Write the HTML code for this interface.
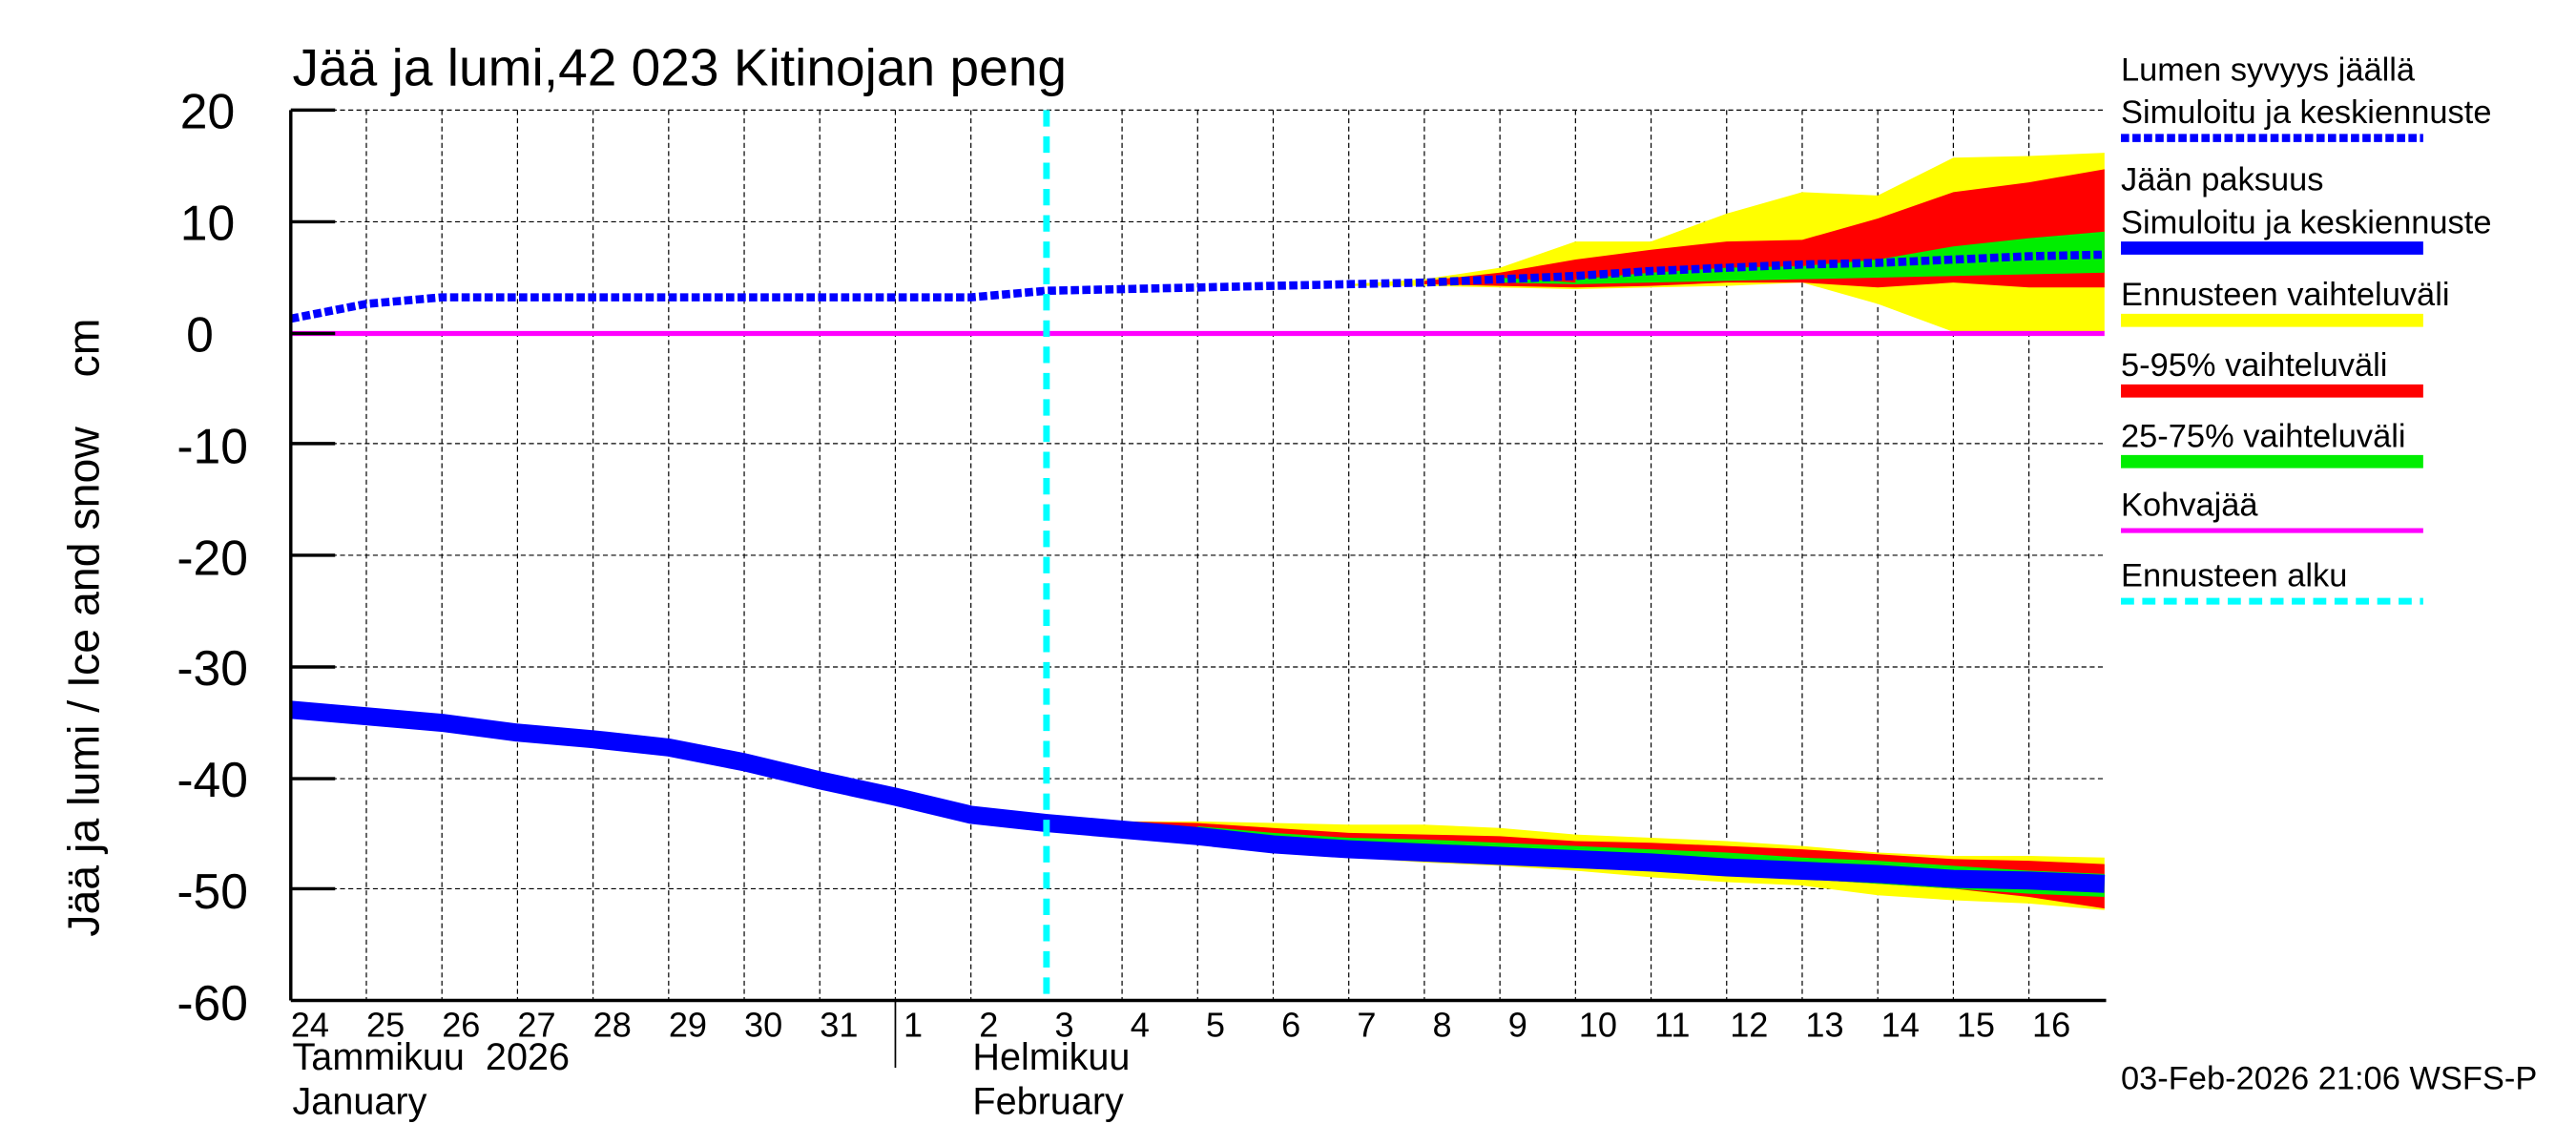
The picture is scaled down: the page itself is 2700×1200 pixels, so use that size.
<!DOCTYPE html>
<html><head><meta charset="utf-8"><style>html,body{margin:0;padding:0;background:#fff}svg{display:block}</style></head><body>
<svg width="2700" height="1200" viewBox="0 0 1568 697" preserveAspectRatio="none" xmlns="http://www.w3.org/2000/svg" font-family="Liberation Sans, sans-serif">
<rect width="1568" height="697" fill="#fff"/>
<g stroke="#000" stroke-width="0.7" stroke-dasharray="3,2">
<line x1="177" y1="67" x2="1281" y2="67"/><line x1="177" y1="135" x2="1281" y2="135"/><line x1="177" y1="270" x2="1281" y2="270"/><line x1="177" y1="338" x2="1281" y2="338"/><line x1="177" y1="406" x2="1281" y2="406"/><line x1="177" y1="474" x2="1281" y2="474"/><line x1="177" y1="541" x2="1281" y2="541"/>
<line x1="223" y1="67" x2="223" y2="609"/><line x1="269" y1="67" x2="269" y2="609"/><line x1="315" y1="67" x2="315" y2="609"/><line x1="361" y1="67" x2="361" y2="609"/><line x1="407" y1="67" x2="407" y2="609"/><line x1="453" y1="67" x2="453" y2="609"/><line x1="499" y1="67" x2="499" y2="609"/><line x1="545" y1="67" x2="545" y2="609"/><line x1="591" y1="67" x2="591" y2="609"/><line x1="683" y1="67" x2="683" y2="609"/><line x1="729" y1="67" x2="729" y2="609"/><line x1="775" y1="67" x2="775" y2="609"/><line x1="821" y1="67" x2="821" y2="609"/><line x1="867" y1="67" x2="867" y2="609"/><line x1="913" y1="67" x2="913" y2="609"/><line x1="959" y1="67" x2="959" y2="609"/><line x1="1005" y1="67" x2="1005" y2="609"/><line x1="1051" y1="67" x2="1051" y2="609"/><line x1="1097" y1="67" x2="1097" y2="609"/><line x1="1143" y1="67" x2="1143" y2="609"/><line x1="1189" y1="67" x2="1189" y2="609"/><line x1="1235" y1="67" x2="1235" y2="609"/>
</g>
<polygon fill="#ffff00" points="821,173 867,170 913,163 959,147 1005,147 1051,130 1097,117 1143,119 1189,96 1235,95 1281,93 1281,202 1235,202 1189,202 1143,185 1097,172 1051,174 1005,175 959,176 913,175 867,174 821,174"/>
<polygon fill="#ff0000" points="867,171 913,166 959,158 1005,152 1051,147 1097,146 1143,133 1189,117 1235,111 1281,103 1281,175 1235,175 1189,172 1143,175 1097,172 1051,172 1005,174 959,175 913,174 867,173"/>
<polygon fill="#00ee00" points="913,169 959,172 959,170 1005,166 1051,163 1097,162 1143,158 1189,150 1235,145 1281,141 1281,166 1235,167 1189,168 1143,169 1097,170 1051,171 1005,172 959,173 913,172"/>
<polygon fill="#ffff00" points="683,500 729,500 775,501 821,502 867,502 913,504 959,508 1005,510 1051,512 1097,515 1143,519 1189,521 1235,521 1281,522 1281,554 1235,550 1189,548 1143,545 1097,539 1051,537 1005,534 959,530 913,527 867,525 821,522 775,518 729,508 683,503"/>
<polygon fill="#ff0000" points="683,500 729,501 775,504 821,507 867,508 913,509 959,512 1005,513 1051,515 1097,517 1143,520 1189,523 1235,524 1281,526 1281,553 1235,546 1189,541 1143,538 1097,535 1051,531 1005,528 959,525 913,522 867,520 821,519 775,515 729,508 683,503"/>
<polygon fill="#00ee00" points="729,503 775,507 821,510 867,511 913,513 959,515 1005,517 1051,519 1097,522 1143,524 1189,527 1235,530 1281,532 1281,546 1235,544 1189,541 1143,538 1097,535 1051,533 1005,530 959,528 913,525 867,523 821,521 775,517 729,507"/>
<line x1="177" y1="203" x2="1281" y2="203" stroke="#ff00ff" stroke-width="3"/>
<polyline fill="none" stroke="#0000ff" stroke-width="11" stroke-linejoin="round" points="177,432 223,436 269,440 315,446 361,450 407,455 453,464 499,475 545,485 591,496 637,501 683,505 729,509 775,514 821,517 867,519 913,521 959,523 1005,525 1051,528 1097,530 1143,532 1189,535 1235,536 1281,538"/>
<polyline fill="none" stroke="#0000ff" stroke-width="5" stroke-dasharray="5,2" points="177,194 223,185 269,181 315,181 361,181 407,181 453,181 499,181 545,181 591,181 637,177 683,176 729,175 775,174 821,173 867,172 913,170 959,168 1005,165 1051,163 1097,161 1143,160 1189,158 1235,156 1281,155"/>
<line x1="637" y1="67" x2="637" y2="609" stroke="#00ffff" stroke-width="4" stroke-dasharray="10,6"/>
<line x1="177" y1="67" x2="177" y2="609" stroke="#000" stroke-width="2"/>
<line x1="177" y1="609" x2="1282" y2="609" stroke="#000" stroke-width="2"/>
<g stroke="#000" stroke-width="2"><line x1="177" y1="67" x2="204" y2="67"/><line x1="177" y1="135" x2="204" y2="135"/><line x1="177" y1="203" x2="204" y2="203"/><line x1="177" y1="270" x2="204" y2="270"/><line x1="177" y1="338" x2="204" y2="338"/><line x1="177" y1="406" x2="204" y2="406"/><line x1="177" y1="474" x2="204" y2="474"/><line x1="177" y1="541" x2="204" y2="541"/></g>
<line x1="545" y1="609" x2="545" y2="650" stroke="#000" stroke-width="1"/>
<g font-size="30" text-anchor="end" fill="#000">
<text x="143" y="78">20</text><text x="143" y="146">10</text><text x="130" y="214">0</text><text x="151" y="282">-10</text><text x="151" y="350">-20</text><text x="151" y="417">-30</text><text x="151" y="485">-40</text><text x="151" y="553">-50</text><text x="151" y="621">-60</text>
</g>
<text transform="translate(60,382) rotate(-90)" font-size="27" text-anchor="middle" xml:space="preserve">Jää ja lumi / Ice and snow    cm</text>
<text x="178" y="52" font-size="32">Jää ja lumi,42 023 Kitinojan peng</text>
<g font-size="21">
<text x="177" y="631">24</text><text x="223" y="631">25</text><text x="269" y="631">26</text><text x="315" y="631">27</text><text x="361" y="631">28</text><text x="407" y="631">29</text><text x="453" y="631">30</text><text x="499" y="631">31</text><text x="550" y="631">1</text><text x="596" y="631">2</text><text x="642" y="631">3</text><text x="688" y="631">4</text><text x="734" y="631">5</text><text x="780" y="631">6</text><text x="826" y="631">7</text><text x="872" y="631">8</text><text x="918" y="631">9</text><text x="961" y="631">10</text><text x="1007" y="631">11</text><text x="1053" y="631">12</text><text x="1099" y="631">13</text><text x="1145" y="631">14</text><text x="1191" y="631">15</text><text x="1237" y="631">16</text>
</g>
<g font-size="23">
<text x="178" y="651" xml:space="preserve">Tammikuu  2026</text><text x="178" y="678">January</text>
<text x="592" y="651">Helmikuu</text><text x="592" y="678">February</text>
</g>
<g font-size="20">
<text x="1291" y="49">Lumen syvyys jäällä</text><text x="1291" y="75">Simuloitu ja keskiennuste</text>
<line x1="1291" y1="84" x2="1475" y2="84" stroke="#0000ff" stroke-width="5" stroke-dasharray="5,2"/>
<text x="1291" y="116">Jään paksuus</text><text x="1291" y="142">Simuloitu ja keskiennuste</text>
<line x1="1291" y1="151" x2="1475" y2="151" stroke="#0000ff" stroke-width="8"/>
<text x="1291" y="186">Ennusteen vaihteluväli</text>
<line x1="1291" y1="195" x2="1475" y2="195" stroke="#ffff00" stroke-width="8"/>
<text x="1291" y="229">5-95% vaihteluväli</text>
<line x1="1291" y1="238" x2="1475" y2="238" stroke="#ff0000" stroke-width="8"/>
<text x="1291" y="272">25-75% vaihteluväli</text>
<line x1="1291" y1="281" x2="1475" y2="281" stroke="#00ee00" stroke-width="8"/>
<text x="1291" y="314">Kohvajää</text>
<line x1="1291" y1="323" x2="1475" y2="323" stroke="#ff00ff" stroke-width="3"/>
<text x="1291" y="357">Ennusteen alku</text>
<line x1="1291" y1="366" x2="1475" y2="366" stroke="#00ffff" stroke-width="4" stroke-dasharray="8,5"/>
<text x="1291" y="663">03-Feb-2026 21:06 WSFS-P</text>
</g>
</svg>
</body></html>
